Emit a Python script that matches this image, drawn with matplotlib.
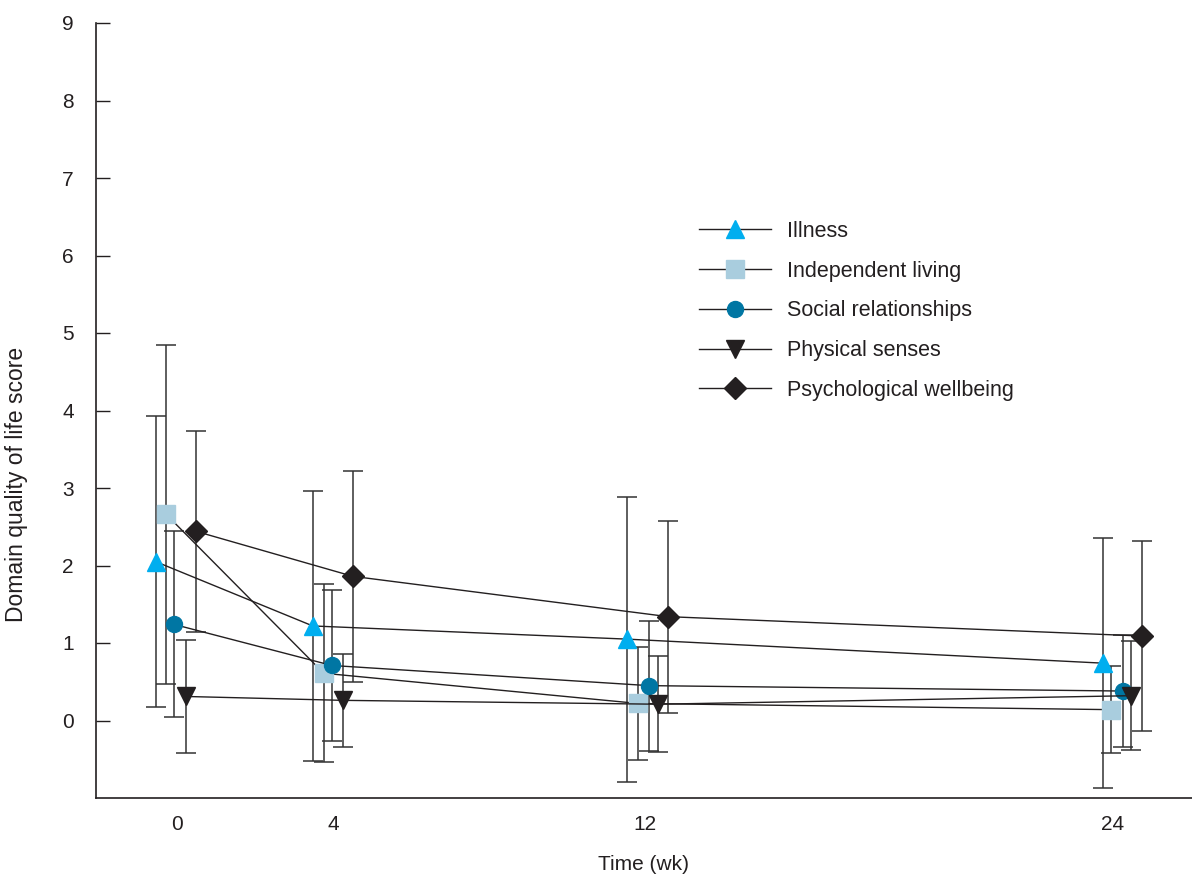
import matplotlib
matplotlib.use("Agg")
import matplotlib.pyplot as plt
import numpy as np

plt.rcParams['font.family'] = ['Liberation Sans', 'DejaVu Sans']

weeks = [0, 4, 12, 24]
tick_labels = ["0", "4", "12", "24"]
series = ["Illness", "Independent living", "Social relationships",
          "Physical senses", "Psychological wellbeing"]

illness_mean = [2.05, 1.22, 1.05, 0.74]
illness_sd = [1.88, 1.74, 1.84, 1.61]
indep_mean = [2.66, 0.61, 0.22, 0.14]
indep_sd = [2.19, 1.15, 0.73, 0.56]
social_mean = [1.24, 0.71, 0.45, 0.38]
social_sd = [1.20, 0.98, 0.84, 0.72]
physical_mean = [0.31, 0.26, 0.21, 0.32]
physical_sd = [0.73, 0.60, 0.62, 0.70]
psych_mean = [2.44, 1.86, 1.34, 1.09]
psych_sd = [1.30, 1.36, 1.24, 1.22]

# horizontal dodge of each series at each time point (weeks)
dodge_illness = [-0.55, -0.52, -0.46, -0.26]
dodge_indep = [-0.28, -0.24, -0.18, -0.05]
dodge_social = [-0.08, -0.03, 0.10, 0.26]
dodge_physical = [0.23, 0.26, 0.33, 0.46]
dodge_psych = [0.49, 0.51, 0.59, 0.74]

means = [illness_mean, indep_mean, social_mean, physical_mean, psych_mean]
sds = [illness_sd, indep_sd, social_sd, physical_sd, psych_sd]
dodges = [dodge_illness, dodge_indep, dodge_social, dodge_physical, dodge_psych]
markers = ['^', 's', 'o', 'v', 'D']
colors = ['#00AEEF', '#A9CDDE', '#0076A3', '#231F20', '#231F20']
msizes = [13.5, 12.5, 11.5, 13.5, 11]

ink = '#231F20'

fig = plt.figure(figsize=(11.92, 8.76), dpi=100)
ax = fig.add_axes([96/1192, 78/876, 1 - 96/1192, (798-23)/876])

for name, m, s, d, mk, c, ms in zip(series, means, sds, dodges, markers, colors, msizes):
    x = np.array(weeks) + np.array(d)
    ax.errorbar(x, m, yerr=s, fmt='none', ecolor='#333333', elinewidth=1.1,
                capsize=7, capthick=1.1, zorder=2)
    ax.plot(x, m, color=ink, lw=1.0, marker=mk, markersize=ms,
            markerfacecolor=c, markeredgecolor=c, label=name, zorder=3)

ax.set_xlim(-2.08, 26.03)
ax.set_ylim(-1, 9)
ax.set_yticks(range(0, 10))
ax.set_xticks(weeks)
ax.set_xticklabels(tick_labels)
ax.tick_params(axis='y', direction='in', length=10, width=1.0, color=ink,
               pad=16, labelsize=15, labelcolor=ink)
ax.tick_params(axis='x', length=0, pad=12, labelsize=15, labelcolor=ink)

for sp in ['top', 'right']:
    ax.spines[sp].set_visible(False)
for sp in ['left', 'bottom']:
    ax.spines[sp].set_color(ink)
    ax.spines[sp].set_linewidth(1.2)

ax.set_ylabel("Domain quality of life score", fontsize=16.5, color=ink)
ax.yaxis.set_label_coords(-0.062, 0.404)
ax.set_xlabel("Time (wk)", fontsize=15, color=ink)
ax.xaxis.set_label_coords(0.4995, -0.074)

leg = ax.legend(loc='upper left', bbox_to_anchor=(699/1192, 1 - 221/876),
                bbox_transform=fig.transFigure, frameon=False, fontsize=15.5,
                handlelength=3.35, handletextpad=0.72, labelspacing=0.87,
                borderpad=0, borderaxespad=0)
for t in leg.get_texts():
    t.set_color(ink)

fig.savefig("out.png", dpi=100)
